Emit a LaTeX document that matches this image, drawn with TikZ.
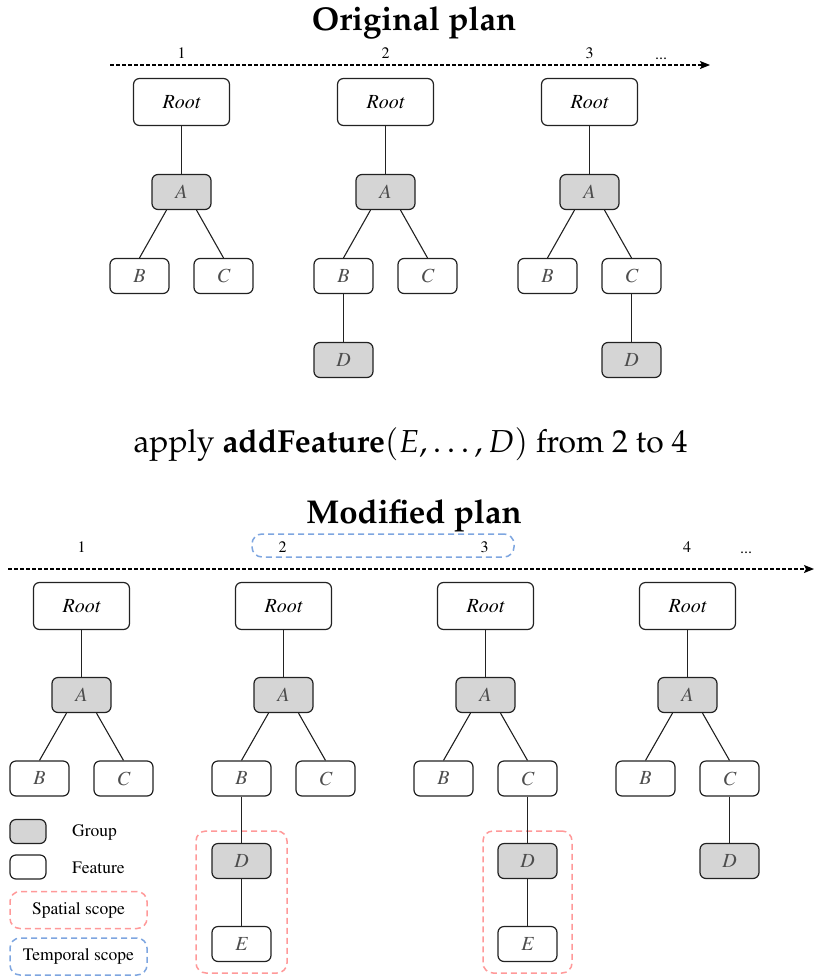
\documentclass[tikz,border=0pt]{standalone}
\usepackage[T1]{fontenc}
\usepackage{mathpazo}
\usetikzlibrary{arrows.meta}

\definecolor{grpfill}{HTML}{D5D5D5}
\definecolor{spatialc}{HTML}{FF9999}
\definecolor{temporalc}{HTML}{7EA6E0}
\definecolor{boxline}{HTML}{222222}
\definecolor{lettc}{HTML}{4D4D4D}

\newcommand\tmsfont{\fontfamily{ptm}\selectfont}

\tikzset{
  x=1pt, y=-1pt,
  fbox/.style={draw=boxline, line width=1.2pt, rounded corners=6pt,
    minimum width=59pt, minimum height=35pt, inner sep=0pt,
    font=\tmsfont\fontsize{20}{24}\selectfont\itshape, text=lettc},
  gbox/.style={fbox, fill=grpfill},
  rootbox/.style={fbox, minimum width=96pt, minimum height=47pt, text=black},
  edge/.style={draw=boxline, line width=1.1pt},
  timeline/.style={draw=black, line width=1.2pt, dash pattern=on 3.5pt off 2.5pt,
    -{Stealth[length=10pt,width=8pt,inset=2pt]}},
  stepnum/.style={font=\tmsfont\fontsize{16}{19}\selectfont, inner sep=0pt, anchor=base},
  title/.style={font=\fontfamily{ppl}\fontsize{33}{38}\selectfont\bfseries, inner sep=0pt, anchor=base},
  spatial/.style={draw=spatialc, line width=1.5pt, dash pattern=on 6pt off 4pt, rounded corners=10pt, inner sep=0pt},
  temporal/.style={draw=temporalc, line width=1.5pt, dash pattern=on 6pt off 4pt, rounded corners=10pt, inner sep=0pt},
  legtext/.style={font=\tmsfont\fontsize{17.5}{20}\selectfont, inner sep=0pt},
}

% Root -> A -> {B, C}: #1 prefix, #2 x, #3 Root y, #4 A y, #5 B/C y
\newcommand\plantree[5]{%
  \node[rootbox] (#1r) at (#2,#3) {Root};
  \node[gbox] (#1a) at (#2,#4) {A};
  \node[fbox] (#1b) at (#2-42,#5) {B};
  \node[fbox] (#1c) at (#2+42,#5) {C};
  \draw[edge] (#1r) -- (#1a);
  \draw[edge] ([xshift=-15pt]#1a.south) -- (#1b.north);
  \draw[edge] ([xshift=15pt]#1a.south) -- (#1c.north);
}

\begin{document}
\begin{tikzpicture}
\useasboundingbox (0,0) rectangle (814,977);

% ---------- original plan ----------
\node[title] (ttop) at (414,30) {Original plan};
\coordinate (tlA) at (110,65);
\coordinate (tlB) at (710,65);
\draw[timeline] (tlA) -- (tlB);
\node[stepnum] (n1) at (181.5,58.5) {1};
\node[stepnum] (n2) at (385.5,58.5) {2};
\node[stepnum] (n3) at (589.5,58.5) {3};
\node[stepnum] (nd) at (661,59) {...};

\plantree{o1}{181.5}{102}{192}{276}
\plantree{o2}{385.5}{102}{192}{276}
\plantree{o3}{589.5}{102}{192}{276}
\node[gbox] (o2d) at (343.5,360) {D};
\draw[edge] (o2b) -- (o2d);
\node[gbox] (o3d) at (631.5,360) {D};
\draw[edge] (o3c) -- (o3d);

% ---------- operation ----------
\node[font=\fontfamily{ppl}\fontsize{31.8}{38}\selectfont, inner sep=0pt, anchor=base] (op) at (410.5,452)
  {apply \textbf{addFeature}$(E,\ldots,D)$ from 2 to 4};

% ---------- modified plan ----------
\node[title] (tbot) at (414,523) {Modified plan};
\node[temporal, minimum width=262pt, minimum height=23pt] (tscope) at (383,545.5) {};
\coordinate (tlC) at (8,569);
\coordinate (tlD) at (814,569);
\draw[timeline] (tlC) -- (tlD);
\node[stepnum] (m1) at (81.5,552) {1};
\node[stepnum] (m2) at (282.5,552) {2};
\node[stepnum] (m3) at (484.5,552) {3};
\node[stepnum] (m4) at (687,552) {4};
\node[stepnum] (md) at (746,553) {...};

\node[spatial, minimum width=91pt, minimum height=142pt] (sc2) at (241.5,902) {};
\node[spatial, minimum width=89pt, minimum height=142pt] (sc3) at (527.5,902) {};

\plantree{m1}{81.5}{606}{695}{778.5}
\plantree{m2}{283.5}{606}{695}{778.5}
\plantree{m3}{485.5}{606}{695}{778.5}
\plantree{m4}{687.5}{606}{695}{778.5}

\node[gbox] (m2d) at (241.5,861) {D};
\node[fbox] (m2e) at (241.5,944) {E};
\draw[edge] (m2b) -- (m2d);
\draw[edge] (m2d) -- (m2e);
\node[gbox] (m3d) at (527.5,861) {D};
\node[fbox] (m3e) at (527.5,944) {E};
\draw[edge] (m3c) -- (m3d);
\draw[edge] (m3d) -- (m3e);
\node[gbox] (m4d) at (729.5,861) {D};
\draw[edge] (m4c) -- (m4d);

% ---------- legend ----------
\node[gbox, minimum width=36pt, minimum height=24pt] (lg) at (28,831.5) {};
\node[legtext, anchor=west] (lgt) at (72,832) {Group};
\node[fbox, minimum width=36pt, minimum height=24pt] (lf) at (28,867) {};
\node[legtext, anchor=west] (lft) at (72,868) {Feature};
\node[spatial, legtext, minimum width=137pt, minimum height=37pt] (ls) at (78.5,910) {Spatial scope};
\node[temporal, legtext, minimum width=137pt, minimum height=37pt] (lt) at (78.5,956.5) {Temporal scope};
\end{tikzpicture}
\end{document}
